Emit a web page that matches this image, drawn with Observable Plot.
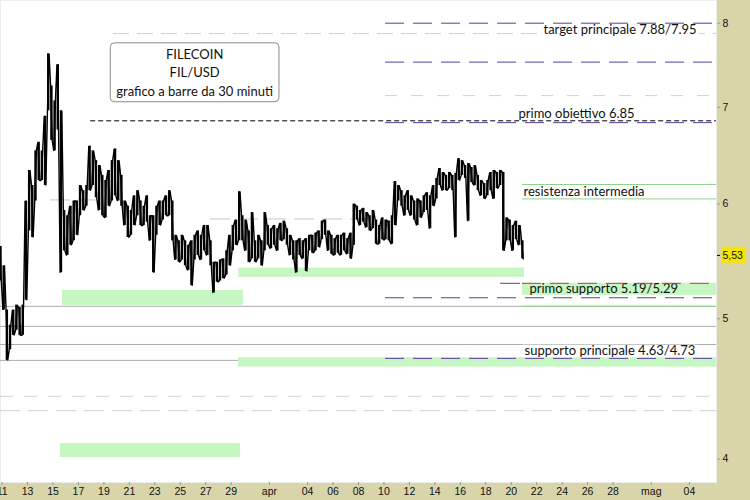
<!DOCTYPE html>
<html><head><meta charset="utf-8">
<script src="https://cdn.jsdelivr.net/npm/d3@7"></script>
<script src="https://cdn.jsdelivr.net/npm/@observablehq/plot@0.6"></script>
<style>
body{margin:0;background:#fff}
#chart svg{display:block}
</style></head><body><div id="chart"></div>
<script>
// ---- price data: 6-hour high/low samples (FIL/USD) ----
const sampleStart = "2023-03-10T21:00Z";
const sampleHours = 6;
const high = [5.61,5.44,5.07,4.95,5.07,5.11,5.09,5.11,6.03,6.33,
6.18,6.53,6.62,6.53,6.90,7.62,7.24,7.07,7.49,6.96,
5.94,5.89,5.98,6.03,6.03,6.18,6.13,6.18,6.58,6.53,
6.43,6.38,6.28,6.23,6.33,6.43,6.55,6.43,6.28,6.03,
5.98,5.94,6.08,6.13,6.03,5.98,6.08,5.89,5.89,5.98,
6.03,6.03,6.08,6.13,6.03,5.71,5.66,5.71,5.66,5.62,
5.66,5.71,5.75,5.71,5.80,5.80,5.66,5.47,5.47,5.49,
5.50,5.57,5.71,5.80,5.85,6.12,5.89,5.85,5.75,5.92,
5.66,5.71,5.66,5.92,5.80,5.77,5.80,5.77,5.82,5.84,
5.77,5.71,5.66,5.66,5.68,5.66,5.68,5.71,5.71,5.73,
5.75,5.84,5.85,5.75,5.71,5.68,5.71,5.71,5.73,5.68,
5.73,6.00,5.98,5.94,5.96,5.92,5.89,5.94,5.85,5.80,
5.87,5.85,5.84,5.89,6.22,6.18,6.13,6.08,6.13,6.08,
6.03,6.05,6.03,6.08,6.11,6.08,6.18,6.25,6.35,6.31,
6.28,6.31,6.28,6.30,6.45,6.43,6.38,6.40,6.36,6.38,
6.28,6.23,6.20,6.23,6.31,6.33,6.31,6.33,6.31,5.87,
5.85,5.80,5.84,5.80,5.66];
const low = [5.31,5.07,4.68,4.76,4.87,4.91,4.87,4.87,5.15,5.75,
5.69,6.03,6.23,6.23,6.18,6.96,6.64,6.53,6.75,5.38,
5.57,5.53,5.62,5.66,5.71,5.89,5.94,5.98,6.13,6.18,
6.06,5.94,5.89,5.87,5.98,6.03,6.08,6.03,5.98,5.80,
5.69,5.71,5.80,5.89,5.80,5.80,5.83,5.66,5.38,5.71,
5.80,5.85,5.89,5.89,5.66,5.49,5.47,5.49,5.44,5.40,
5.27,5.49,5.53,5.49,5.57,5.53,5.44,5.21,5.30,5.31,
5.33,5.36,5.44,5.57,5.62,5.66,5.66,5.57,5.47,5.50,
5.47,5.50,5.44,5.57,5.62,5.59,5.62,5.57,5.66,5.67,
5.62,5.53,5.49,5.38,5.53,5.50,5.39,5.57,5.55,5.57,
5.60,5.67,5.71,5.57,5.54,5.53,5.55,5.53,5.57,5.54,
5.50,5.62,5.85,5.80,5.83,5.78,5.75,5.77,5.63,5.63,
5.67,5.67,5.66,5.63,5.80,6.03,5.98,5.89,5.94,5.89,
5.85,5.80,5.87,5.92,5.94,5.77,5.98,6.05,6.18,6.13,
6.13,6.15,6.13,5.69,6.23,6.28,6.25,5.84,6.21,6.18,
6.13,6.08,6.05,6.08,6.13,6.05,6.15,6.18,5.57,5.66,
5.66,5.57,5.67,5.62,5.50];
const lastPrice = 5.53;

// ---- axes ----
const xDomain = ["2023-03-10T21:00Z", "2023-05-06T03:00Z"];
const yDomain = [3.854, 8.294];
const yTicks = [4, 5, 6, 7, 8];
const xTickDays = ["2023-03-11","2023-03-13","2023-03-15","2023-03-17","2023-03-19","2023-03-21","2023-03-23","2023-03-25","2023-03-27","2023-03-29",
  "2023-04-01","2023-04-04","2023-04-06","2023-04-08","2023-04-10","2023-04-12","2023-04-14","2023-04-16","2023-04-18","2023-04-20",
  "2023-04-22","2023-04-24","2023-04-26","2023-04-28","2023-05-01","2023-05-04"];
const monthNames = ["gen","feb","mar","apr","mag","giu","lug","ago","set","ott","nov","dic"];

// ---- levels ----
const greyDashedFull = [4.42];
const greyDashedLong = [4.32];
const greyDashedTop = [7.87];          // from 19 Mar
const greyDashedTopFrom = "2023-03-19T18:00Z";
const greyDashedRight = [7.13];        // from 10 Apr
const greySolidFull = [5.10, 4.94, 4.80, 4.68];
const greyPartialLevels = [6.04, 5.86];
const greyPartialFrom = ["2023-03-14T19:00Z", "2023-03-27T09:00Z"];
const greyPartialTo = ["2023-03-18T17:30Z", "2023-04-08T13:00Z"];
const purpleLevels = [8.00, 7.52, 6.83, 5.17, 4.695];
const purpleFrom = "2023-04-10T03:00Z";
const purpleShortLevel = [5.29];
const purpleShortFrom = "2023-04-19T04:00Z";
const purpleShortTo = "2023-04-20T17:30Z";
const targetLevel = [6.85];
const targetFrom = "2023-03-17T23:00Z";
const greenLevels = [6.19, 6.05, 5.10];
const greenFrom = "2023-04-20T21:00Z";
const redLevels = [5.29];
const redFrom = "2023-04-20T21:00Z";

const bandFrom = ["2023-03-15T18:00Z","2023-03-29T14:00Z","2023-04-20T21:00Z","2023-03-29T14:00Z","2023-03-15T14:00Z"];
const bandTo   = ["2023-03-29T23:00Z","2023-04-21T01:00Z","2023-05-06T03:00Z","2023-05-06T03:00Z","2023-03-29T17:30Z"];
const bandLow  = [5.107, 5.34, 5.19, 4.63, 4.01];
const bandHigh = [5.23, 5.42, 5.29, 4.70, 4.10];

const labelTexts = ["target principale 7.88/7.95","primo obiettivo 6.85","supporto principale 4.63/4.73"];
const labelDates = ["2023-04-22T12:45Z","2023-04-20T13:40Z","2023-04-21T01:00Z"];
const labelPrices = [7.91, 6.93, 4.75];
const plainTexts = ["resistenza intermedia","primo supporto 5.19/5.29"];
const plainDates = ["2023-04-20T23:00Z","2023-04-21T10:20Z"];
const plainPrices = [6.12, 5.24];

const titleLines = ["FILECOIN", "FIL/USD", "grafico a barre da 30 minuti"];
const titleDate = "2023-03-26T03:00Z";
const titlePrice = 7.41;

// ---- build ----
const D = s => new Date(s);
const t0 = +D(sampleStart);
const H = 3600e3;
const series = high.map((h, i) => ({date: new Date(t0 + i * sampleHours * H), high: h, low: low[i]}));
// zig-zag path through each sample's high and low (alternating order) for a bar-like texture
const zig = series.flatMap((d, i) => {
  const a = {date: new Date(+d.date - 1.5 * H), v: i % 2 ? d.low : d.high};
  const b = {date: new Date(+d.date + 1.5 * H), v: i % 2 ? d.high : d.low};
  return [a, b];
});
const X1 = D(xDomain[1]);
const bands = bandLow.map((l, i) => ({x1: D(bandFrom[i]), x2: D(bandTo[i]), y1: l, y2: bandHigh[i]}));
const partial = greyPartialLevels.map((v, i) => ({y: v, x1: D(greyPartialFrom[i]), x2: D(greyPartialTo[i])}));
const labels = labelTexts.map((t, i) => ({text: t, x: D(labelDates[i]), y: labelPrices[i]}));
const plains = plainTexts.map((t, i) => ({text: t, x: D(plainDates[i]), y: plainPrices[i]}));

const GREY = "#ababab", LGREY = "#d2d2d2", PURPLE = "#5b3e9e", GREEN = "#8fd48a", BANDC = "#c6f6c1";
const fromTo = (a, b) => ({x1: () => a, x2: () => b});

const chart = Plot.plot({
  width: 750, height: 500,
  marginLeft: 0, marginRight: 34, marginTop: 0, marginBottom: 18,
  style: {background: "#d8d5ab", fontFamily: "Liberation Sans, Arial, sans-serif", fontSize: "10.5px", color: "#111"},
  x: {type: "utc", domain: xDomain.map(D), label: null},
  y: {type: "log", domain: yDomain, label: null},
  marks: [
    Plot.frame({fill: "white", stroke: "#ececec"}),
    Plot.ruleY(greyDashedFull, {y: d => d, stroke: LGREY, strokeDasharray: "13,11"}),
    Plot.ruleY(greyDashedLong, {y: d => d, stroke: LGREY, strokeDasharray: "20,8"}),
    Plot.ruleY(greyDashedTop, {y: d => d, ...fromTo(D(greyDashedTopFrom), X1), stroke: LGREY, strokeDasharray: "16,8"}),
    Plot.ruleY(greyDashedRight, {y: d => d, ...fromTo(D(purpleFrom), X1), stroke: LGREY, strokeDasharray: "12,14"}),
    Plot.ruleY(partial, {y: "y", x1: "x1", x2: "x2", stroke: "#c8c8c8", strokeDasharray: "20,8"}),
    Plot.ruleY(greySolidFull, {y: d => d, stroke: GREY}),
    Plot.ruleY(targetLevel, {y: d => d, ...fromTo(D(targetFrom), X1), stroke: "#000", strokeDasharray: "5,3"}),
    Plot.rect(bands, {x1: "x1", x2: "x2", y1: "y1", y2: "y2", fill: BANDC}),
    Plot.ruleY(greenLevels, {y: d => d, ...fromTo(D(greenFrom), X1), stroke: GREEN}),
    Plot.ruleY(purpleLevels.slice(3), {y: d => d, ...fromTo(D(purpleFrom), X1), stroke: PURPLE, strokeDasharray: "19,9"}),
    Plot.text(labels, {x: "x", y: "y", text: "text", textAnchor: "start", fontFamily: "Lato", fontSize: 13, fill: "#111"}),
    Plot.text(plains, {x: "x", y: "y", text: "text", textAnchor: "start", fontFamily: "Lato", fontSize: 13, fill: "#111"}),
    Plot.ruleY(purpleLevels.slice(0, 3), {y: d => d, ...fromTo(D(purpleFrom), X1), stroke: PURPLE, strokeDasharray: "19,9"}),
    Plot.ruleY(purpleShortLevel, {y: d => d, ...fromTo(D(purpleShortFrom), D(purpleShortTo)), stroke: PURPLE}),
    Plot.ruleY(redLevels, {y: d => d, ...fromTo(D(redFrom), X1), stroke: "#c4324f", strokeDasharray: "19,9"}),
    Plot.text([titleLines.join("\n")], {x: () => D(titleDate), y: () => titlePrice, text: d => d, fontFamily: "Lato", fontSize: 13, lineHeight: 1.42, fill: "#111"}),
    Plot.ruleX(series, {x: "date", y1: "low", y2: "high", stroke: "#000", strokeWidth: 2.4}),
    Plot.line(zig, {x: "date", y: "v", stroke: "#000", strokeWidth: 1.4, strokeLinejoin: "miter"}),
    Plot.axisX({ticks: xTickDays.map(s => D(s + "T00:00Z")), tickSize: 3, tickPadding: 2, stroke: "#999",
      tickFormat: d => d.getUTCDate() === 1 ? monthNames[d.getUTCMonth()] : String(d.getUTCDate()).padStart(2, "0")}),
    Plot.axisY({anchor: "right", ticks: yTicks, tickSize: 3, tickPadding: 3, stroke: "#999", tickFormat: d => String(d)}),
    Plot.axisY({anchor: "right", ticks: [lastPrice], tickSize: 3, tickPadding: 3, stroke: "#000", tickFormat: d => d.toFixed(2).replace(".", ",")})
  ]
});
document.getElementById("chart").appendChild(chart);

// backgrounds behind texts
const NS = "http://www.w3.org/2000/svg";
function boxBehind(text, pad, attrs) {
  const b = text.getBBox();
  const r = document.createElementNS(NS, "rect");
  r.setAttribute("x", b.x - pad[3]);
  r.setAttribute("y", b.y - pad[0]);
  r.setAttribute("width", b.width + pad[1] + pad[3]);
  r.setAttribute("height", b.height + pad[0] + pad[2]);
  if (text.getAttribute("transform")) r.setAttribute("transform", text.getAttribute("transform"));
  for (const k in attrs) r.setAttribute(k, attrs[k]);
  text.parentNode.insertBefore(r, text);
}
chart.querySelectorAll("text").forEach(t => {
  const s = t.textContent;
  if (labelTexts.includes(s)) boxBehind(t, [-2.5, 2, -1, 2], {fill: "white"});
  else if (s.startsWith(titleLines[0])) boxBehind(t, [3, 6, 3, 6], {fill: "white", stroke: "#8a8a8a", rx: 4});
  else if (s === "5,53") boxBehind(t, [2, 3, 2, 1], {fill: "#f7e400"});
});
</script></body></html>
